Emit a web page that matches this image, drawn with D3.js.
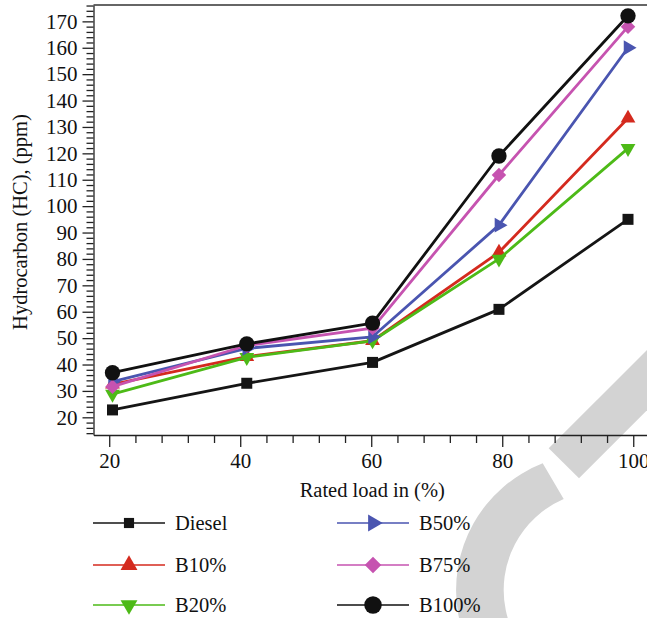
<!DOCTYPE html>
<html>
<head>
<meta charset="utf-8">
<script src="https://cdn.jsdelivr.net/npm/d3@7"></script>
<style>
	html, body { margin: 0; padding: 0; background: #fff; }
	svg { display: block; }
	text { font-family: "Liberation Serif", "Times New Roman", serif; fill: #111; }
</style>
</head>
<body>
<svg id="chart"></svg>
<script>
const W = 647;
const H = 618;

// rated load (%) as placed in the figure
const loads = [20.5, 41, 60.2, 79.5, 99.2];
const seriesNames = ["Diesel", "B10%", "B20%", "B50%", "B75%", "B100%"];
const diesel = [22.8, 32.9, 40.8, 60.9, 95.0];
const b10 = [32.5, 43.0, 49.0, 82.5, 133.3];
const b20 = [28.8, 42.7, 49.0, 80.0, 121.9];
const b50 = [33.5, 46.1, 50.5, 92.8, 160.0];
const b75 = [31.6, 47.2, 53.8, 111.8, 168.0];
const b100 = [36.9, 47.8, 55.7, 119.0, 172.1];
const xTicks = [20, 40, 60, 80, 100];
const yTicks = [20, 30, 40, 50, 60, 70, 80, 90, 100, 110, 120, 130, 140, 150, 160, 170];

const colors = ["#151515", "#d42a1e", "#4dba17", "#4a55b0", "#c653b0", "#111111"];
const shapes = ["square", "up", "down", "right", "diamond", "circle"];

const svg = d3.select("#chart").attr("width", W).attr("height", H);

// watermark
const wm = svg.append("g").attr("fill", "#d3d3d3");
wm.append("path").attr("d",
	"M542.7,463.3 A136,136 0 0 0 590,726 L603,689 A99,99 0 0 1 563.7,499 Z");
wm.append("path").attr("d",
	"M548.7,448.3 L700,297 L730,327 L579,478.3 Z");

const x = d3.scaleLinear().domain([17.6, 102.1]).range([93.5, 647]);
const y = d3.scaleLinear().domain([13.3, 176.2]).range([435, 5]);

function symbolFor(shape, s) {
	let sym = d3.symbol();
	if (shape == "square") return { d: sym.type(d3.symbolSquare).size(s * 121)(), rot: 0 };
	if (shape == "circle") return { d: sym.type(d3.symbolCircle).size(s * 185)(), rot: 0 };
	if (shape == "diamond") return { d: sym.type(d3.symbolSquare).size(s * 105)(), rot: 45 };
	let t = sym.type(d3.symbolTriangle).size(s * 95)();
	if (shape == "up") return { d: t, rot: 0 };
	if (shape == "down") return { d: t, rot: 180 };
	return { d: t, rot: 90 };
}

// axes
const minorY = d3.range(14, 177, 2).filter(v => v % 10 != 0);
const minorX = d3.range(20, 103, 4).filter(v => v % 20 != 0);

svg.append("g").attr("transform", "translate(0,435)")
	.call(d3.axisBottom(x).tickValues(minorX).tickSize(8).tickFormat(""))
	.call(g => g.select(".domain").remove());
svg.append("g").attr("transform", "translate(93.5,0)")
	.call(d3.axisLeft(y).tickValues(minorY).tickSize(7).tickFormat(""))
	.call(g => g.select(".domain").remove());

const xAxis = svg.append("g").attr("transform", "translate(0,435)")
	.call(d3.axisBottom(x).tickValues(xTicks).tickSize(12).tickSizeOuter(0).tickPadding(6));
const yAxis = svg.append("g").attr("transform", "translate(93.5,0)")
	.call(d3.axisLeft(y).tickValues(yTicks).tickSize(11).tickSizeOuter(0).tickPadding(5));

svg.selectAll(".tick line, .domain").attr("stroke", "#222").attr("stroke-width", 1.3);
svg.selectAll(".tick text").style("font-family", "'Liberation Serif', serif")
	.style("font-size", "21px").attr("fill", "#111");

svg.append("line")
	.attr("x1", x.range()[0]).attr("x2", x.range()[1])
	.attr("y1", y.range()[1]).attr("y2", y.range()[1])
	.attr("stroke", "#333").attr("stroke-width", 1.5);

svg.append("text")
	.attr("x", x(60) + 1).attr("y", 497)
	.attr("text-anchor", "middle")
	.style("font-size", "20.5px")
	.text("Rated load in (%)");

svg.append("text")
	.attr("transform", "translate(27," + ((y.range()[0] + y.range()[1]) / 2 + 2) + ") rotate(-90)")
	.attr("text-anchor", "middle")
	.style("font-size", "20.5px")
	.text("Hydrocarbon (HC), (ppm)");

// series
const allSeries = [diesel, b10, b20, b50, b75, b100];
const line = d3.line().x((d, i) => x(loads[i])).y(d => y(d));

allSeries.forEach((vals, k) => {
	let g = svg.append("g");
	g.append("path").datum(vals)
		.attr("d", line).attr("fill", "none")
		.attr("stroke", colors[k]).attr("stroke-width", 2.8)
		.attr("stroke-linejoin", "round");
	let sym = symbolFor(shapes[k], 1);
	g.selectAll("path.pt").data(vals).enter().append("path")
		.attr("class", "pt")
		.attr("d", sym.d)
		.attr("transform", (d, i) => "translate(" + x(loads[i]) + "," + y(d) + ") rotate(" + sym.rot + ")")
		.attr("fill", colors[k]);
});

// legend
const legendCols = [93, 337];
const legendRows = [523, 565, 605];
seriesNames.forEach((name, k) => {
	let lx = legendCols[Math.floor(k / 3)];
	let ly = legendRows[k % 3];
	let g = svg.append("g").attr("transform", "translate(" + lx + "," + ly + ")");
	g.append("line").attr("x1", 0).attr("x2", 72).attr("y1", 0).attr("y2", 0)
		.attr("stroke", colors[k]).attr("stroke-width", 1.6);
	let sym = symbolFor(shapes[k], shapes[k] == "square" ? 0.85 : 1.3);
	g.append("path").attr("d", sym.d)
		.attr("transform", "translate(36,0) rotate(" + sym.rot + ")")
		.attr("fill", colors[k]);
	g.append("text").attr("x", 82).attr("y", 7)
		.style("font-size", "20.5px")
		.text(name);
});
</script>
</body>
</html>
